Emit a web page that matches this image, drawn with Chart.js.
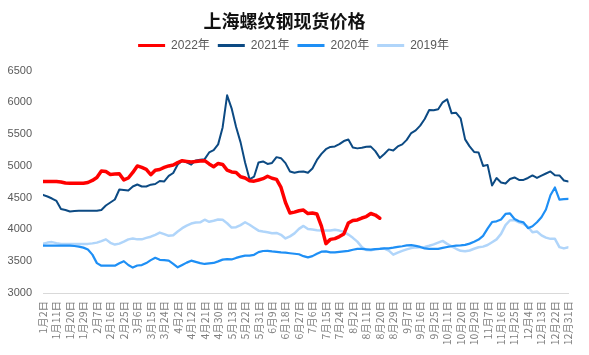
<!DOCTYPE html>
<html><head><meta charset="utf-8">
<script src="https://cdn.jsdelivr.net/npm/chart.js@4/dist/chart.umd.min.js"></script>
<style>html,body{margin:0;padding:0;background:#fff;}#wrap{width:589px;height:355px;}</style>
</head><body><div id="wrap"><canvas id="c" width="589" height="355"></canvas></div>
<script>
const tickLabels = ['1月2日','1月11日','1月20日','1月29日','2月7日','2月16日','2月25日','3月6日','3月15日','3月24日','4月2日','4月12日','4月21日','4月30日','5月13日','5月22日','5月31日','6月9日','6月18日','6月27日','7月6日','7月15日','7月24日','8月2日','8月11日','8月20日','8月29日','9月7日','9月16日','9月25日','10月11日','10月20日','10月29日','11月7日','11月16日','11月25日','12月4日','12月13日','12月22日','12月31日'];
const seriesNames = ['2022年','2021年','2020年','2019年'];
const v2022 = [4755,4755,4755,4755,4747,4731,4728,4728,4728,4728,
4739,4771,4818,4921,4913,4866,4871,4877,4779,4810,
4897,5000,4976,4946,4861,4932,4944,4976,5000,5014,
5052,5082,5071,5060,5071,5078,5083,5031,4987,5039,
5023,4935,4905,4897,4829,4809,4768,4760,4779,4799,
4837,4806,4788,4661,4424,4258,4273,4295,4306,4251,
4260,4243,4053,3777,3844,3856,3888,3930,4101,4140,
4150,4180,4203,4251,4227,4177];
const v2021 = [4545,4519,4487,4448,4322,4306,4282,4290,4293,4293,
4293,4293,4293,4306,4377,4424,4471,4629,4621,4613,
4676,4708,4676,4676,4705,4716,4763,4755,4842,4889,
5023,5082,5055,5020,5086,5096,5107,5212,5247,5339,
5606,6111,5906,5611,5370,5055,4790,4830,5055,5071,
5031,5047,5138,5122,5044,4913,4892,4908,4913,4892,
4960,5094,5189,5263,5298,5307,5342,5391,5415,5291,
5276,5285,5301,5304,5233,5126,5187,5260,5244,5307,
5339,5410,5517,5559,5634,5739,5880,5875,5891,6001,
6048,5827,5835,5749,5418,5307,5220,5212,5000,5016,
4692,4810,4739,4724,4795,4818,4779,4779,4810,4850,
4810,4847,4881,4913,4853,4850,4771,4755];
const v2020 = [3746,3746,3746,3746,3746,3746,3746,3740,3729,3714,
3684,3604,3470,3430,3430,3430,3430,3468,3500,3441,
3400,3433,3439,3471,3517,3554,3522,3516,3509,3459,
3405,3442,3478,3509,3490,3470,3457,3465,3473,3498,
3525,3533,3528,3552,3572,3588,3588,3601,3643,3661,
3662,3654,3648,3640,3634,3626,3618,3610,3580,3561,
3580,3618,3651,3656,3640,3640,3648,3656,3664,3680,
3694,3694,3688,3683,3690,3695,3703,3703,3713,3725,
3736,3749,3754,3741,3725,3701,3694,3694,3694,3710,
3724,3736,3746,3749,3757,3777,3807,3841,3900,4014,
4117,4128,4156,4244,4252,4165,4129,4112,4020,4050,
4113,4192,4314,4539,4660,4471,4476,4482];
const v2019 = [3776,3793,3801,3785,3773,3773,3773,3773,3773,3773,
3773,3781,3793,3817,3844,3790,3762,3777,3809,3844,
3856,3844,3844,3867,3886,3916,3951,3926,3900,3909,
3968,4020,4061,4093,4109,4112,4153,4121,4137,4156,
4151,4098,4030,4035,4069,4113,4074,4027,3981,3968,
3957,3941,3946,3916,3858,3891,3938,4009,4056,4006,
3998,3989,3982,3982,3982,3995,3982,3962,3919,3868,
3809,3722,3677,3671,3689,3697,3700,3667,3604,3636,
3662,3686,3707,3718,3719,3725,3744,3766,3793,3820,
3773,3735,3696,3664,3658,3669,3696,3719,3730,3755,
3799,3844,3930,4069,4145,4148,4112,4088,4041,3956,
3967,3907,3872,3852,3852,3722,3702,3719];
const yTicks = [3000,3500,4000,4500,5000,5500,6000,6500];

const STEP = 3;      // days per data sample
const TICK_STEP = 9; // days per x tick label
const toPts = arr => arr.map((v,k)=>({x:k*STEP, y:v}));

const legendMargin = {
  id:'legendMargin',
  beforeInit(chart){
    const fit = chart.legend.fit;
    chart.legend.fit = function(){ fit.bind(chart.legend)(); this.height += 9; };
  },
  afterLayout(chart){
    chart.legend.left += 9; chart.legend.right += 9;
  }
};

new Chart(document.getElementById('c'), {
  type:'line',
  data:{datasets:[
    {label:seriesNames[0], data:toPts(v2022), borderColor:'#FF0000', backgroundColor:'#FF0000', borderWidth:3.5},
    {label:seriesNames[1], data:toPts(v2021), borderColor:'#0C4A83', backgroundColor:'#0C4A83', borderWidth:2},
    {label:seriesNames[2], data:toPts(v2020), borderColor:'#1E8FF5', backgroundColor:'#1E8FF5', borderWidth:2.2},
    {label:seriesNames[3], data:toPts(v2019), borderColor:'#B0D5FA', backgroundColor:'#B0D5FA', borderWidth:2.5}
  ]},
  options:{
    responsive:false, animation:false, devicePixelRatio:1,
    elements:{point:{radius:0}, line:{tension:0, borderJoinStyle:'round', borderCapStyle:'round'}},
    layout:{padding:{left:0,right:20,top:0,bottom:0}},
    plugins:{
      title:{display:true, text:'上海螺纹钢现货价格', color:'#111',
        font:{family:'"Noto Sans CJK SC", sans-serif', size:18, weight:'bold'}, padding:{top:10,bottom:0}},
      legend:{display:true, position:'top',
        labels:{boxWidth:27, boxHeight:3, padding:8, color:'#595959',
          font:{family:'"Liberation Sans","Noto Sans CJK SC", sans-serif', size:12},
          generateLabels(chart){
            return Chart.defaults.plugins.legend.labels.generateLabels(chart).map(l=>Object.assign(l,{lineWidth:0, strokeStyle:'rgba(0,0,0,0)'}));
          }}},
      tooltip:{enabled:false}
    },
    scales:{
      x:{type:'linear', min:0, max:(tickLabels.length-1)*TICK_STEP,
        grid:{display:false, drawTicks:false},
        border:{display:true, color:'#D9D9D9', width:1},
        afterBuildTicks(scale){ scale.ticks = tickLabels.map((_,i)=>({value:i*TICK_STEP})); },
        ticks:{autoSkip:false, minRotation:90, maxRotation:90, padding:8, color:'#7F7F7F',
          font:{family:'"Noto Sans CJK SC", sans-serif', size:10.5},
          callback:(v)=>tickLabels[Math.round(v/TICK_STEP)]},
        afterFit(scale){ scale.height = 62; }
      },
      y:{min:3000, max:6500,
        grid:{display:false, drawTicks:false},
        border:{display:false},
        afterBuildTicks(scale){ scale.ticks = yTicks.map(v=>({value:v})); },
        ticks:{padding:11, color:'#595959', font:{family:'"Liberation Sans", sans-serif', size:11},
          callback:(v)=>String(v)},
        afterFit(scale){ scale.width = 43; }
      }
    }
  },
  plugins:[legendMargin]
});
</script></body></html>
